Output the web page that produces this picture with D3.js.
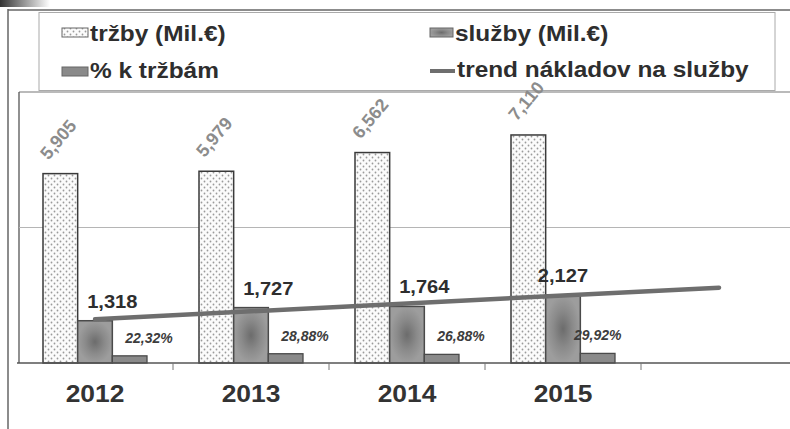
<!DOCTYPE html>
<html>
<head>
<meta charset="utf-8">
<script src="https://cdn.jsdelivr.net/npm/d3@7"></script>
<style>
  body { margin: 0; background: #fff; }
  text { font-family: "Liberation Sans", Arial, sans-serif; font-weight: bold; }
</style>
</head>
<body>
<script>
// data
const years = ["2012", "2013", "2014", "2015"];
const trzby = [5905, 5979, 6562, 7110];       // tržby (Mil.€)
const sluzby = [1318, 1727, 1764, 2127];      // služby (Mil.€)
const podiel = [22.32, 28.88, 26.88, 29.92];  // % k tržbám
const series = ["trzby", "sluzby", "podiel"];
const legendLabels = ["tržby (Mil.€)", "služby (Mil.€)", "% k tržbám", "trend nákladov na služby"];

const width = 790;
const height = 429;

const svg = d3.select('body')
  .append('svg')
  .attr('width', width)
  .attr('height', height);

const defs = svg.append('defs');

const dots = defs.append('pattern')
  .attr('id', 'dots')
  .attr('width', 6)
  .attr('height', 6)
  .attr('patternUnits', 'userSpaceOnUse');
dots.append('rect').attr('width', 6).attr('height', 6).attr('fill', '#fbfbfb');
dots.append('circle').attr('cx', 1.5).attr('cy', 1.5).attr('r', 0.9).attr('fill', '#9a9a9a');
dots.append('circle').attr('cx', 4.5).attr('cy', 4.5).attr('r', 0.9).attr('fill', '#9a9a9a');

const glow = defs.append('radialGradient').attr('id', 'glow');
glow.append('stop').attr('offset', '0%').attr('stop-color', '#6c6c6c');
glow.append('stop').attr('offset', '55%').attr('stop-color', '#8a8a8a');
glow.append('stop').attr('offset', '100%').attr('stop-color', '#9d9d9d');

const smudge = defs.append('linearGradient').attr('id', 'smudge');
smudge.append('stop').attr('offset', '0%').attr('stop-color', '#333');
smudge.append('stop').attr('offset', '100%').attr('stop-color', '#fff');

// scan frame
svg.append('rect').attr('x', 0).attr('y', 0).attr('width', 50).attr('height', 7).attr('fill', 'url(#smudge)');
svg.append('line').attr('x1', 8).attr('x2', width).attr('y1', 10).attr('y2', 10)
  .attr('stroke', '#666').attr('stroke-width', 1.5);
svg.append('line').attr('x1', 8).attr('x2', 8).attr('y1', 9).attr('y2', height)
  .attr('stroke', '#666').attr('stroke-width', 1.5);

// scales
const x = d3.scaleBand()
  .domain(years.concat([""]))
  .range([17, 797]);

const xs = d3.scaleBand()
  .domain(series)
  .range([0, x.bandwidth()])
  .paddingOuter(0.75);

const yMax = 8450;
const y = d3.scaleLinear()
  .domain([0, yMax])
  .range([363, 92]);

const yPct = d3.scaleLinear()
  .domain([0, 100])
  .range([y(0), y(1000)]);

// plot area
svg.append('line').attr('x1', 19).attr('x2', width).attr('y1', y(yMax)).attr('y2', y(yMax))
  .attr('stroke', '#777').attr('stroke-width', 1.2);
svg.append('line').attr('x1', 19).attr('x2', 19).attr('y1', y(yMax)).attr('y2', y(0))
  .attr('stroke', '#555').attr('stroke-width', 1.3);
svg.append('line').attr('x1', 19).attr('x2', width).attr('y1', y(yMax / 2)).attr('y2', y(yMax / 2))
  .attr('stroke', '#b5b5b5').attr('stroke-width', 1);

// legend
const lg = svg.append('g');
lg.append('rect').attr('x', 39).attr('y', 12.5).attr('width', 736).attr('height', 78)
  .attr('fill', '#fff').attr('stroke', '#aaa');
lg.append('rect').attr('x', 62).attr('y', 28).attr('width', 26).attr('height', 9)
  .attr('fill', 'url(#dots)').attr('stroke', '#666');
lg.append('rect').attr('x', 430).attr('y', 28).attr('width', 23).attr('height', 9)
  .attr('fill', 'url(#glow)').attr('stroke', '#666');
lg.append('rect').attr('x', 62).attr('y', 67).attr('width', 26).attr('height', 9)
  .attr('fill', '#8a8a8a').attr('stroke', '#666');
lg.append('line').attr('x1', 430).attr('x2', 455).attr('y1', 71).attr('y2', 71)
  .attr('stroke', '#6e6e6e').attr('stroke-width', 4);

const legendPos = [[90, 41], [455, 41], [90, 78], [457, 77]];
lg.selectAll('text.leg')
  .data(legendLabels)
  .join('text')
    .attr('class', 'leg')
    .attr('transform', (d, i) => `translate(${legendPos[i][0]},${legendPos[i][1]}) scale(1.11,1)`)
    .attr('font-size', 22)
    .attr('fill', '#2e2e2e')
    .text(d => d);

// bars
const groups = svg.append('g')
  .selectAll('g')
  .data(years)
  .join('g')
    .attr('transform', d => `translate(${x(d)},0)`);

groups.append('rect')
  .attr('x', xs('trzby'))
  .attr('width', xs.bandwidth())
  .attr('y', (d, i) => y(trzby[i]))
  .attr('height', (d, i) => y(0) - y(trzby[i]))
  .attr('fill', 'url(#dots)')
  .attr('stroke', '#3a3a3a')
  .attr('stroke-width', 1.5);

groups.append('rect')
  .attr('x', xs('sluzby'))
  .attr('width', xs.bandwidth())
  .attr('y', (d, i) => y(sluzby[i]))
  .attr('height', (d, i) => y(0) - y(sluzby[i]))
  .attr('fill', 'url(#glow)')
  .attr('stroke', '#4a4a4a')
  .attr('stroke-width', 1.5);

groups.append('rect')
  .attr('x', xs('podiel'))
  .attr('width', xs.bandwidth())
  .attr('y', (d, i) => yPct(podiel[i]))
  .attr('height', (d, i) => y(0) - yPct(podiel[i]))
  .attr('fill', '#8a8a8a')
  .attr('stroke', '#4a4a4a')
  .attr('stroke-width', 1.3);

// trend line (linear fit of služby, projected one period ahead)
const n = sluzby.length;
const mx = (n - 1) / 2;
const my = d3.mean(sluzby);
const slope = d3.sum(sluzby, (v, i) => (i - mx) * (v - my)) / d3.sum(sluzby, (v, i) => (i - mx) ** 2);
const trendCats = x.domain();
const line = d3.line()
  .x(d => x(d) + x.bandwidth() / 2)
  .y((d, i) => y(my + slope * (i - mx)));

svg.append('path')
  .datum(trendCats)
  .attr('d', line)
  .attr('fill', 'none')
  .attr('stroke', '#6e6e6e')
  .attr('stroke-width', 4.5)
  .attr('stroke-linecap', 'round');

// axis
svg.append('line').attr('x1', 17).attr('x2', width).attr('y1', y(0)).attr('y2', y(0))
  .attr('stroke', '#555').attr('stroke-width', 1.5);
svg.append('g')
  .selectAll('line')
  .data(x.domain().slice(1))
  .join('line')
    .attr('x1', d => x(d)).attr('x2', d => x(d))
    .attr('y1', y(0)).attr('y2', y(0) + 7)
    .attr('stroke', '#777');

svg.append('g')
  .selectAll('text')
  .data(years)
  .join('text')
    .attr('transform', d => `translate(${x(d) + x.bandwidth() / 2},402) scale(1.1,1)`)
    .attr('text-anchor', 'middle')
    .attr('font-size', 24)
    .attr('fill', '#333')
    .text(d => d);

// value labels
const fmt = d3.format(',');
const last = years.length - 1;

groups.append('text')
  .attr('transform', (d, i) => `translate(${xs('trzby') + xs.bandwidth() / 2 - 2},${y(trzby[i]) - 34}) rotate(-50)`)
  .attr('text-anchor', 'middle')
  .attr('dominant-baseline', 'central')
  .attr('font-size', 18)
  .attr('fill', '#8c8c8c')
  .text((d, i) => fmt(trzby[i]));

groups.append('text')
  .attr('transform', (d, i) => {
    const cx = xs('sluzby') + (i === last ? xs.bandwidth() / 2 : xs.bandwidth());
    return `translate(${cx},${y(sluzby[i]) - 13}) scale(1.06,1)`;
  })
  .attr('text-anchor', 'middle')
  .attr('font-size', 19)
  .attr('fill', '#2e2e2e')
  .text((d, i) => fmt(sluzby[i]));

groups.append('text')
  .attr('x', (d, i) => xs('podiel') + (i === last ? xs.bandwidth() / 2 : xs.bandwidth() + 2))
  .attr('y', (d, i) => yPct(podiel[i]) - 13)
  .attr('text-anchor', 'middle')
  .attr('font-size', 14)
  .attr('font-style', 'italic')
  .attr('fill', '#3c3c3c')
  .text((d, i) => podiel[i].toFixed(2).replace('.', ',') + '%');
</script>
</body>
</html>
